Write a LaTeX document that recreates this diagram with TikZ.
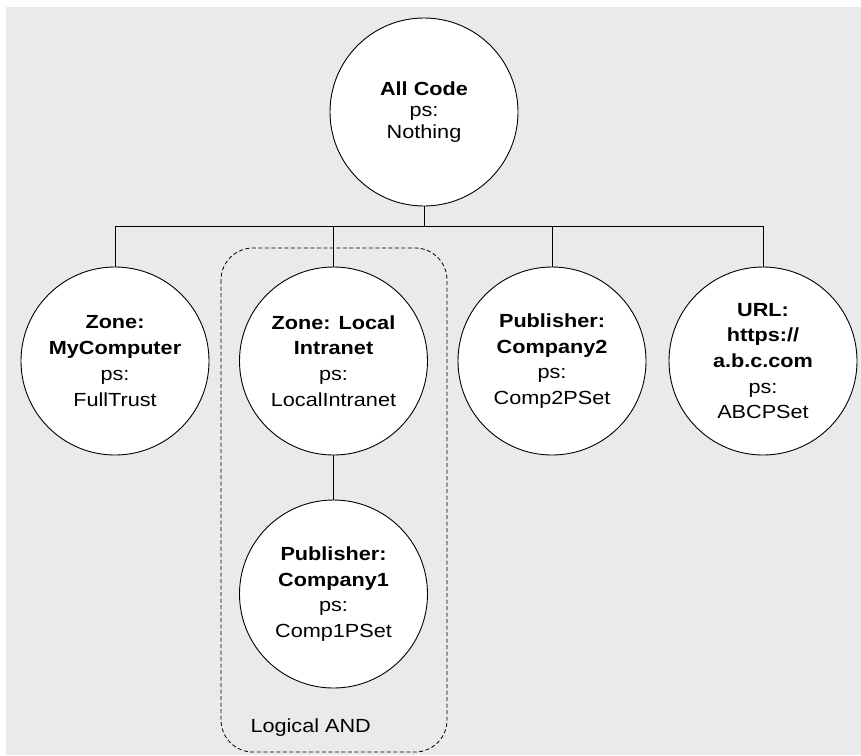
\documentclass[tikz,border=0pt]{standalone}
\usepackage{fontspec}
\setmainfont{Liberation Sans}[FakeStretch=1.14]
\definecolor{bggray}{RGB}{234,234,234}
\tikzset{
  pnode/.style={circle, draw=black, line width=0.9pt, fill=white, minimum size=188pt, inner sep=0pt, align=center, font=\fontsize{19}{25.7}\selectfont},
  topnode/.style={pnode, font=\fontsize{19}{21.7}\selectfont},
  conn/.style={draw=black, line width=0.9pt},
  andbox/.style={draw=black, line width=0.8pt, dash pattern=on 4pt off 2.5pt, rounded corners=32pt}
}
\begin{document}
\begin{tikzpicture}[x=1pt,y=-1pt]
\useasboundingbox (0,0) rectangle (861,755);
\fill[bggray] (6,7) rectangle (861,755);
\draw[andbox] (221,248) rectangle (447,752);
\node[anchor=base west, font=\fontsize{19}{22}\selectfont] (andlabel) at (247,732) {Logical AND};
\node[topnode] (allcode) at (424,112) {\textbf{All Code}\\ps:\\Nothing};
\node[pnode] (mycomp) at (115,361) {\textbf{Zone:}\\\textbf{MyComputer}\\ps:\\FullTrust};
\node[pnode] (intra) at (333.5,361) {\textbf{Zone: Local}\\\textbf{Intranet}\\ps:\\LocalIntranet};
\node[pnode] (comp2) at (552,361) {\textbf{Publisher:}\\\textbf{Company2}\\ps:\\Comp2PSet};
\node[pnode] (url) at (763,361) {\textbf{URL:}\\\textbf{https://}\\\textbf{a.b.c.com}\\ps:\\ABCPSet};
\node[pnode] (comp1) at (333.5,594) {\textbf{Publisher:}\\\textbf{Company1}\\ps:\\Comp1PSet};
\coordinate (bus) at (424,226);
\draw[conn] (allcode.south) -- (bus);
\draw[conn] (mycomp.north) |- (bus);
\draw[conn] (url.north) |- (bus);
\draw[conn] (intra.north) -- (intra.north |- bus);
\draw[conn] (comp2.north) -- (comp2.north |- bus);
\draw[conn] (intra.south) -- (comp1.north);
\end{tikzpicture}
\end{document}
